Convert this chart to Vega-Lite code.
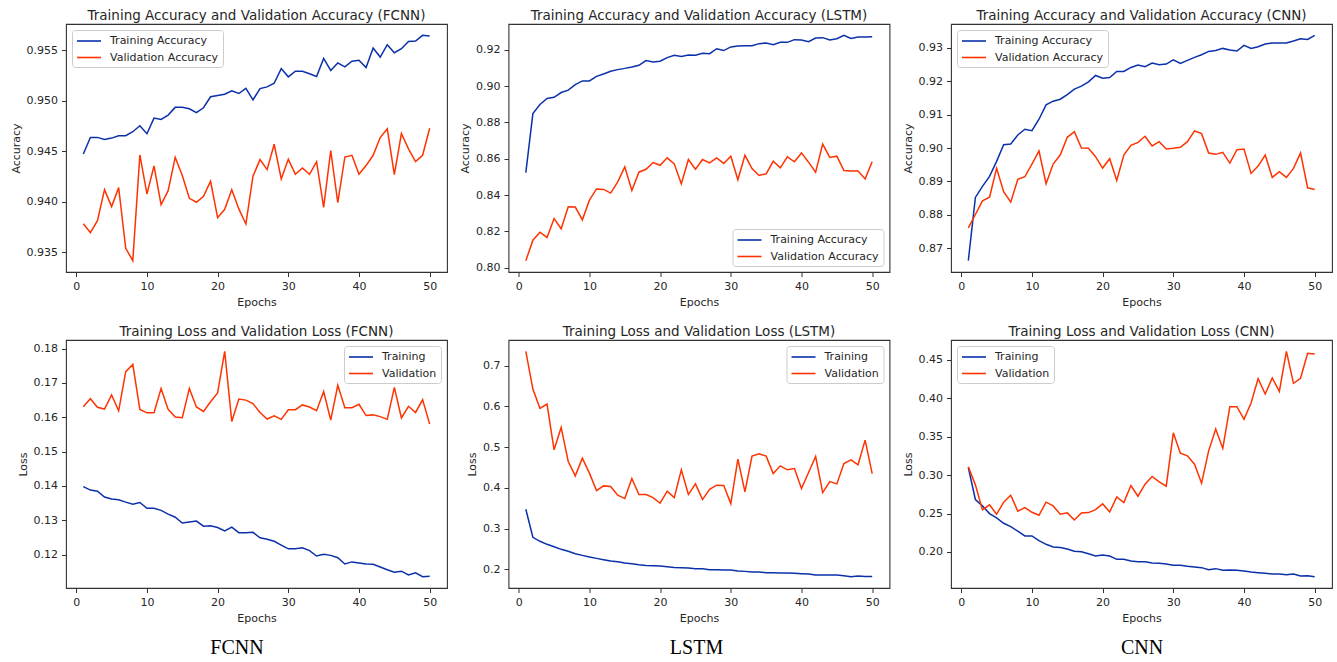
{
"$schema": "https://vega.github.io/schema/vega-lite/v6.json",
"padding": {"left": 9, "top": 7, "right": 0, "bottom": 0},
"background": "white",
"datasets": {
"fcnn_acc": [
{"epoch":1,"series":"Training Accuracy","value":0.94474},{"epoch":2,"series":"Training Accuracy","value":0.94639},{"epoch":3,"series":"Training Accuracy","value":0.94639},{"epoch":4,"series":"Training Accuracy","value":0.94619},{"epoch":5,"series":"Training Accuracy","value":0.94632},{"epoch":6,"series":"Training Accuracy","value":0.94655},{"epoch":7,"series":"Training Accuracy","value":0.94655},{"epoch":8,"series":"Training Accuracy","value":0.94695},{"epoch":9,"series":"Training Accuracy","value":0.94754},{"epoch":10,"series":"Training Accuracy","value":0.94675},
{"epoch":11,"series":"Training Accuracy","value":0.9483},{"epoch":12,"series":"Training Accuracy","value":0.94817},{"epoch":13,"series":"Training Accuracy","value":0.9486},{"epoch":14,"series":"Training Accuracy","value":0.94936},{"epoch":15,"series":"Training Accuracy","value":0.94936},{"epoch":16,"series":"Training Accuracy","value":0.94922},{"epoch":17,"series":"Training Accuracy","value":0.94883},{"epoch":18,"series":"Training Accuracy","value":0.94932},{"epoch":19,"series":"Training Accuracy","value":0.95041},{"epoch":20,"series":"Training Accuracy","value":0.95053},
{"epoch":21,"series":"Training Accuracy","value":0.95066},{"epoch":22,"series":"Training Accuracy","value":0.95099},{"epoch":23,"series":"Training Accuracy","value":0.95073},{"epoch":24,"series":"Training Accuracy","value":0.95125},{"epoch":25,"series":"Training Accuracy","value":0.9501},{"epoch":26,"series":"Training Accuracy","value":0.95122},{"epoch":27,"series":"Training Accuracy","value":0.95139},{"epoch":28,"series":"Training Accuracy","value":0.95175},{"epoch":29,"series":"Training Accuracy","value":0.9532},{"epoch":30,"series":"Training Accuracy","value":0.95238},
{"epoch":31,"series":"Training Accuracy","value":0.95294},{"epoch":32,"series":"Training Accuracy","value":0.95294},{"epoch":33,"series":"Training Accuracy","value":0.95268},{"epoch":34,"series":"Training Accuracy","value":0.95241},{"epoch":35,"series":"Training Accuracy","value":0.9542},{"epoch":36,"series":"Training Accuracy","value":0.95301},{"epoch":37,"series":"Training Accuracy","value":0.95376},{"epoch":38,"series":"Training Accuracy","value":0.95337},{"epoch":39,"series":"Training Accuracy","value":0.95393},{"epoch":40,"series":"Training Accuracy","value":0.95403},
{"epoch":41,"series":"Training Accuracy","value":0.9533},{"epoch":42,"series":"Training Accuracy","value":0.95523},{"epoch":43,"series":"Training Accuracy","value":0.95434},{"epoch":44,"series":"Training Accuracy","value":0.95556},{"epoch":45,"series":"Training Accuracy","value":0.95477},{"epoch":46,"series":"Training Accuracy","value":0.95517},{"epoch":47,"series":"Training Accuracy","value":0.95589},{"epoch":48,"series":"Training Accuracy","value":0.95592},{"epoch":49,"series":"Training Accuracy","value":0.95649},{"epoch":50,"series":"Training Accuracy","value":0.95642},
{"epoch":1,"series":"Validation Accuracy","value":0.93785},{"epoch":2,"series":"Validation Accuracy","value":0.93696},{"epoch":3,"series":"Validation Accuracy","value":0.93815},{"epoch":4,"series":"Validation Accuracy","value":0.94122},{"epoch":5,"series":"Validation Accuracy","value":0.93954},{"epoch":6,"series":"Validation Accuracy","value":0.94142},{"epoch":7,"series":"Validation Accuracy","value":0.93541},{"epoch":8,"series":"Validation Accuracy","value":0.93419},{"epoch":9,"series":"Validation Accuracy","value":0.94465},{"epoch":10,"series":"Validation Accuracy","value":0.94079},
{"epoch":11,"series":"Validation Accuracy","value":0.94356},{"epoch":12,"series":"Validation Accuracy","value":0.93974},{"epoch":13,"series":"Validation Accuracy","value":0.94112},{"epoch":14,"series":"Validation Accuracy","value":0.94442},{"epoch":15,"series":"Validation Accuracy","value":0.94261},{"epoch":16,"series":"Validation Accuracy","value":0.94036},{"epoch":17,"series":"Validation Accuracy","value":0.93997},{"epoch":18,"series":"Validation Accuracy","value":0.94056},{"epoch":19,"series":"Validation Accuracy","value":0.94205},{"epoch":20,"series":"Validation Accuracy","value":0.93845},
{"epoch":21,"series":"Validation Accuracy","value":0.93927},{"epoch":22,"series":"Validation Accuracy","value":0.94122},{"epoch":23,"series":"Validation Accuracy","value":0.93931},{"epoch":24,"series":"Validation Accuracy","value":0.93782},{"epoch":25,"series":"Validation Accuracy","value":0.94255},{"epoch":26,"series":"Validation Accuracy","value":0.94419},{"epoch":27,"series":"Validation Accuracy","value":0.9432},{"epoch":28,"series":"Validation Accuracy","value":0.94571},{"epoch":29,"series":"Validation Accuracy","value":0.94228},{"epoch":30,"series":"Validation Accuracy","value":0.94422},
{"epoch":31,"series":"Validation Accuracy","value":0.94274},{"epoch":32,"series":"Validation Accuracy","value":0.94337},{"epoch":33,"series":"Validation Accuracy","value":0.94274},{"epoch":34,"series":"Validation Accuracy","value":0.94399},{"epoch":35,"series":"Validation Accuracy","value":0.93947},{"epoch":36,"series":"Validation Accuracy","value":0.94508},{"epoch":37,"series":"Validation Accuracy","value":0.93993},{"epoch":38,"series":"Validation Accuracy","value":0.94445},{"epoch":39,"series":"Validation Accuracy","value":0.94462},{"epoch":40,"series":"Validation Accuracy","value":0.94274},
{"epoch":41,"series":"Validation Accuracy","value":0.9436},{"epoch":42,"series":"Validation Accuracy","value":0.94462},{"epoch":43,"series":"Validation Accuracy","value":0.94637},{"epoch":44,"series":"Validation Accuracy","value":0.94723},{"epoch":45,"series":"Validation Accuracy","value":0.94271},{"epoch":46,"series":"Validation Accuracy","value":0.94677},{"epoch":47,"series":"Validation Accuracy","value":0.94525},{"epoch":48,"series":"Validation Accuracy","value":0.94399},{"epoch":49,"series":"Validation Accuracy","value":0.94462},{"epoch":50,"series":"Validation Accuracy","value":0.94729}
],
"lstm_acc": [
{"epoch":1,"series":"Training Accuracy","value":0.8524},{"epoch":2,"series":"Training Accuracy","value":0.8848},{"epoch":3,"series":"Training Accuracy","value":0.8898},{"epoch":4,"series":"Training Accuracy","value":0.8931},{"epoch":5,"series":"Training Accuracy","value":0.8938},{"epoch":6,"series":"Training Accuracy","value":0.8964},{"epoch":7,"series":"Training Accuracy","value":0.8977},{"epoch":8,"series":"Training Accuracy","value":0.9008},{"epoch":9,"series":"Training Accuracy","value":0.9028},{"epoch":10,"series":"Training Accuracy","value":0.9028},
{"epoch":11,"series":"Training Accuracy","value":0.9053},{"epoch":12,"series":"Training Accuracy","value":0.9066},{"epoch":13,"series":"Training Accuracy","value":0.9081},{"epoch":14,"series":"Training Accuracy","value":0.909},{"epoch":15,"series":"Training Accuracy","value":0.9097},{"epoch":16,"series":"Training Accuracy","value":0.9105},{"epoch":17,"series":"Training Accuracy","value":0.9114},{"epoch":18,"series":"Training Accuracy","value":0.914},{"epoch":19,"series":"Training Accuracy","value":0.9132},{"epoch":20,"series":"Training Accuracy","value":0.9136},
{"epoch":21,"series":"Training Accuracy","value":0.9156},{"epoch":22,"series":"Training Accuracy","value":0.9169},{"epoch":23,"series":"Training Accuracy","value":0.9162},{"epoch":24,"series":"Training Accuracy","value":0.9171},{"epoch":25,"series":"Training Accuracy","value":0.9169},{"epoch":26,"series":"Training Accuracy","value":0.918},{"epoch":27,"series":"Training Accuracy","value":0.9178},{"epoch":28,"series":"Training Accuracy","value":0.9205},{"epoch":29,"series":"Training Accuracy","value":0.9195},{"epoch":30,"series":"Training Accuracy","value":0.9215},
{"epoch":31,"series":"Training Accuracy","value":0.922},{"epoch":32,"series":"Training Accuracy","value":0.9222},{"epoch":33,"series":"Training Accuracy","value":0.9222},{"epoch":34,"series":"Training Accuracy","value":0.9233},{"epoch":35,"series":"Training Accuracy","value":0.9237},{"epoch":36,"series":"Training Accuracy","value":0.9227},{"epoch":37,"series":"Training Accuracy","value":0.924},{"epoch":38,"series":"Training Accuracy","value":0.924},{"epoch":39,"series":"Training Accuracy","value":0.9255},{"epoch":40,"series":"Training Accuracy","value":0.9253},
{"epoch":41,"series":"Training Accuracy","value":0.9244},{"epoch":42,"series":"Training Accuracy","value":0.9264},{"epoch":43,"series":"Training Accuracy","value":0.9266},{"epoch":44,"series":"Training Accuracy","value":0.9253},{"epoch":45,"series":"Training Accuracy","value":0.926},{"epoch":46,"series":"Training Accuracy","value":0.9279},{"epoch":47,"series":"Training Accuracy","value":0.9262},{"epoch":48,"series":"Training Accuracy","value":0.927},{"epoch":49,"series":"Training Accuracy","value":0.927},{"epoch":50,"series":"Training Accuracy","value":0.9271},
{"epoch":1,"series":"Validation Accuracy","value":0.8039},{"epoch":2,"series":"Validation Accuracy","value":0.8152},{"epoch":3,"series":"Validation Accuracy","value":0.8196},{"epoch":4,"series":"Validation Accuracy","value":0.8167},{"epoch":5,"series":"Validation Accuracy","value":0.8271},{"epoch":6,"series":"Validation Accuracy","value":0.8215},{"epoch":7,"series":"Validation Accuracy","value":0.8336},{"epoch":8,"series":"Validation Accuracy","value":0.8334},{"epoch":9,"series":"Validation Accuracy","value":0.8264},{"epoch":10,"series":"Validation Accuracy","value":0.8372},
{"epoch":11,"series":"Validation Accuracy","value":0.8434},{"epoch":12,"series":"Validation Accuracy","value":0.8431},{"epoch":13,"series":"Validation Accuracy","value":0.8411},{"epoch":14,"series":"Validation Accuracy","value":0.8473},{"epoch":15,"series":"Validation Accuracy","value":0.8555},{"epoch":16,"series":"Validation Accuracy","value":0.8425},{"epoch":17,"series":"Validation Accuracy","value":0.8526},{"epoch":18,"series":"Validation Accuracy","value":0.8542},{"epoch":19,"series":"Validation Accuracy","value":0.8579},{"epoch":20,"series":"Validation Accuracy","value":0.8564},
{"epoch":21,"series":"Validation Accuracy","value":0.8605},{"epoch":22,"series":"Validation Accuracy","value":0.8572},{"epoch":23,"series":"Validation Accuracy","value":0.8462},{"epoch":24,"series":"Validation Accuracy","value":0.8596},{"epoch":25,"series":"Validation Accuracy","value":0.8542},{"epoch":26,"series":"Validation Accuracy","value":0.8596},{"epoch":27,"series":"Validation Accuracy","value":0.8577},{"epoch":28,"series":"Validation Accuracy","value":0.8605},{"epoch":29,"series":"Validation Accuracy","value":0.8574},{"epoch":30,"series":"Validation Accuracy","value":0.8614},
{"epoch":31,"series":"Validation Accuracy","value":0.8484},{"epoch":32,"series":"Validation Accuracy","value":0.8619},{"epoch":33,"series":"Validation Accuracy","value":0.8546},{"epoch":34,"series":"Validation Accuracy","value":0.8508},{"epoch":35,"series":"Validation Accuracy","value":0.8517},{"epoch":36,"series":"Validation Accuracy","value":0.8586},{"epoch":37,"series":"Validation Accuracy","value":0.855},{"epoch":38,"series":"Validation Accuracy","value":0.861},{"epoch":39,"series":"Validation Accuracy","value":0.8583},{"epoch":40,"series":"Validation Accuracy","value":0.8632},
{"epoch":41,"series":"Validation Accuracy","value":0.8581},{"epoch":42,"series":"Validation Accuracy","value":0.8526},{"epoch":43,"series":"Validation Accuracy","value":0.868},{"epoch":44,"series":"Validation Accuracy","value":0.8607},{"epoch":45,"series":"Validation Accuracy","value":0.8614},{"epoch":46,"series":"Validation Accuracy","value":0.8535},{"epoch":47,"series":"Validation Accuracy","value":0.8533},{"epoch":48,"series":"Validation Accuracy","value":0.8532},{"epoch":49,"series":"Validation Accuracy","value":0.8489},{"epoch":50,"series":"Validation Accuracy","value":0.8583}
],
"cnn_acc": [
{"epoch":1,"series":"Training Accuracy","value":0.8663},{"epoch":2,"series":"Training Accuracy","value":0.8852},{"epoch":3,"series":"Training Accuracy","value":0.8885},{"epoch":4,"series":"Training Accuracy","value":0.8915},{"epoch":5,"series":"Training Accuracy","value":0.896},{"epoch":6,"series":"Training Accuracy","value":0.901},{"epoch":7,"series":"Training Accuracy","value":0.9012},{"epoch":8,"series":"Training Accuracy","value":0.9039},{"epoch":9,"series":"Training Accuracy","value":0.9056},{"epoch":10,"series":"Training Accuracy","value":0.9052},
{"epoch":11,"series":"Training Accuracy","value":0.9086},{"epoch":12,"series":"Training Accuracy","value":0.9129},{"epoch":13,"series":"Training Accuracy","value":0.914},{"epoch":14,"series":"Training Accuracy","value":0.9146},{"epoch":15,"series":"Training Accuracy","value":0.916},{"epoch":16,"series":"Training Accuracy","value":0.9176},{"epoch":17,"series":"Training Accuracy","value":0.9185},{"epoch":18,"series":"Training Accuracy","value":0.9198},{"epoch":19,"series":"Training Accuracy","value":0.9217},{"epoch":20,"series":"Training Accuracy","value":0.9209},
{"epoch":21,"series":"Training Accuracy","value":0.9211},{"epoch":22,"series":"Training Accuracy","value":0.9229},{"epoch":23,"series":"Training Accuracy","value":0.9229},{"epoch":24,"series":"Training Accuracy","value":0.9241},{"epoch":25,"series":"Training Accuracy","value":0.9248},{"epoch":26,"series":"Training Accuracy","value":0.9243},{"epoch":27,"series":"Training Accuracy","value":0.9254},{"epoch":28,"series":"Training Accuracy","value":0.9249},{"epoch":29,"series":"Training Accuracy","value":0.9251},{"epoch":30,"series":"Training Accuracy","value":0.9264},
{"epoch":31,"series":"Training Accuracy","value":0.9253},{"epoch":32,"series":"Training Accuracy","value":0.9262},{"epoch":33,"series":"Training Accuracy","value":0.9271},{"epoch":34,"series":"Training Accuracy","value":0.9279},{"epoch":35,"series":"Training Accuracy","value":0.9289},{"epoch":36,"series":"Training Accuracy","value":0.9292},{"epoch":37,"series":"Training Accuracy","value":0.9298},{"epoch":38,"series":"Training Accuracy","value":0.9293},{"epoch":39,"series":"Training Accuracy","value":0.929},{"epoch":40,"series":"Training Accuracy","value":0.9307},
{"epoch":41,"series":"Training Accuracy","value":0.9298},{"epoch":42,"series":"Training Accuracy","value":0.9303},{"epoch":43,"series":"Training Accuracy","value":0.9311},{"epoch":44,"series":"Training Accuracy","value":0.9314},{"epoch":45,"series":"Training Accuracy","value":0.9314},{"epoch":46,"series":"Training Accuracy","value":0.9314},{"epoch":47,"series":"Training Accuracy","value":0.932},{"epoch":48,"series":"Training Accuracy","value":0.9327},{"epoch":49,"series":"Training Accuracy","value":0.9325},{"epoch":50,"series":"Training Accuracy","value":0.9337},
{"epoch":1,"series":"Validation Accuracy","value":0.8761},{"epoch":2,"series":"Validation Accuracy","value":0.8801},{"epoch":3,"series":"Validation Accuracy","value":0.8842},{"epoch":4,"series":"Validation Accuracy","value":0.8853},{"epoch":5,"series":"Validation Accuracy","value":0.8939},{"epoch":6,"series":"Validation Accuracy","value":0.8869},{"epoch":7,"series":"Validation Accuracy","value":0.8838},{"epoch":8,"series":"Validation Accuracy","value":0.8906},{"epoch":9,"series":"Validation Accuracy","value":0.8914},{"epoch":10,"series":"Validation Accuracy","value":0.8952},
{"epoch":11,"series":"Validation Accuracy","value":0.8991},{"epoch":12,"series":"Validation Accuracy","value":0.8893},{"epoch":13,"series":"Validation Accuracy","value":0.8952},{"epoch":14,"series":"Validation Accuracy","value":0.8979},{"epoch":15,"series":"Validation Accuracy","value":0.9032},{"epoch":16,"series":"Validation Accuracy","value":0.9049},{"epoch":17,"series":"Validation Accuracy","value":0.9},{"epoch":18,"series":"Validation Accuracy","value":0.8999},{"epoch":19,"series":"Validation Accuracy","value":0.8974},{"epoch":20,"series":"Validation Accuracy","value":0.894},
{"epoch":21,"series":"Validation Accuracy","value":0.8968},{"epoch":22,"series":"Validation Accuracy","value":0.8903},{"epoch":23,"series":"Validation Accuracy","value":0.8979},{"epoch":24,"series":"Validation Accuracy","value":0.9008},{"epoch":25,"series":"Validation Accuracy","value":0.9017},{"epoch":26,"series":"Validation Accuracy","value":0.9035},{"epoch":27,"series":"Validation Accuracy","value":0.9006},{"epoch":28,"series":"Validation Accuracy","value":0.9019},{"epoch":29,"series":"Validation Accuracy","value":0.8997},{"epoch":30,"series":"Validation Accuracy","value":0.8999},
{"epoch":31,"series":"Validation Accuracy","value":0.9002},{"epoch":32,"series":"Validation Accuracy","value":0.9019},{"epoch":33,"series":"Validation Accuracy","value":0.9051},{"epoch":34,"series":"Validation Accuracy","value":0.9043},{"epoch":35,"series":"Validation Accuracy","value":0.8985},{"epoch":36,"series":"Validation Accuracy","value":0.8981},{"epoch":37,"series":"Validation Accuracy","value":0.8987},{"epoch":38,"series":"Validation Accuracy","value":0.8955},{"epoch":39,"series":"Validation Accuracy","value":0.8995},{"epoch":40,"series":"Validation Accuracy","value":0.8997},
{"epoch":41,"series":"Validation Accuracy","value":0.8924},{"epoch":42,"series":"Validation Accuracy","value":0.8946},{"epoch":43,"series":"Validation Accuracy","value":0.8979},{"epoch":44,"series":"Validation Accuracy","value":0.8912},{"epoch":45,"series":"Validation Accuracy","value":0.8929},{"epoch":46,"series":"Validation Accuracy","value":0.8912},{"epoch":47,"series":"Validation Accuracy","value":0.8939},{"epoch":48,"series":"Validation Accuracy","value":0.8985},{"epoch":49,"series":"Validation Accuracy","value":0.8881},{"epoch":50,"series":"Validation Accuracy","value":0.8876}
],
"fcnn_loss": [
{"epoch":1,"series":"Training","value":0.1398},{"epoch":2,"series":"Training","value":0.1388},{"epoch":3,"series":"Training","value":0.1385},{"epoch":4,"series":"Training","value":0.1368},{"epoch":5,"series":"Training","value":0.1362},{"epoch":6,"series":"Training","value":0.136},{"epoch":7,"series":"Training","value":0.1353},{"epoch":8,"series":"Training","value":0.1347},{"epoch":9,"series":"Training","value":0.1352},{"epoch":10,"series":"Training","value":0.1335},
{"epoch":11,"series":"Training","value":0.1335},{"epoch":12,"series":"Training","value":0.1329},{"epoch":13,"series":"Training","value":0.1318},{"epoch":14,"series":"Training","value":0.1309},{"epoch":15,"series":"Training","value":0.1292},{"epoch":16,"series":"Training","value":0.1295},{"epoch":17,"series":"Training","value":0.1298},{"epoch":18,"series":"Training","value":0.1283},{"epoch":19,"series":"Training","value":0.1284},{"epoch":20,"series":"Training","value":0.1279},
{"epoch":21,"series":"Training","value":0.1269},{"epoch":22,"series":"Training","value":0.128},{"epoch":23,"series":"Training","value":0.1264},{"epoch":24,"series":"Training","value":0.1264},{"epoch":25,"series":"Training","value":0.1265},{"epoch":26,"series":"Training","value":0.1249},{"epoch":27,"series":"Training","value":0.1245},{"epoch":28,"series":"Training","value":0.1239},{"epoch":29,"series":"Training","value":0.1228},{"epoch":30,"series":"Training","value":0.1217},
{"epoch":31,"series":"Training","value":0.1217},{"epoch":32,"series":"Training","value":0.122},{"epoch":33,"series":"Training","value":0.1212},{"epoch":34,"series":"Training","value":0.1196},{"epoch":35,"series":"Training","value":0.1201},{"epoch":36,"series":"Training","value":0.1198},{"epoch":37,"series":"Training","value":0.1191},{"epoch":38,"series":"Training","value":0.1173},{"epoch":39,"series":"Training","value":0.1179},{"epoch":40,"series":"Training","value":0.1176},
{"epoch":41,"series":"Training","value":0.1173},{"epoch":42,"series":"Training","value":0.1172},{"epoch":43,"series":"Training","value":0.1164},{"epoch":44,"series":"Training","value":0.1156},{"epoch":45,"series":"Training","value":0.1149},{"epoch":46,"series":"Training","value":0.1152},{"epoch":47,"series":"Training","value":0.1141},{"epoch":48,"series":"Training","value":0.1147},{"epoch":49,"series":"Training","value":0.1136},{"epoch":50,"series":"Training","value":0.1137},
{"epoch":1,"series":"Validation","value":0.1631},{"epoch":2,"series":"Validation","value":0.1654},{"epoch":3,"series":"Validation","value":0.1629},{"epoch":4,"series":"Validation","value":0.1624},{"epoch":5,"series":"Validation","value":0.1665},{"epoch":6,"series":"Validation","value":0.1619},{"epoch":7,"series":"Validation","value":0.1733},{"epoch":8,"series":"Validation","value":0.1754},{"epoch":9,"series":"Validation","value":0.1623},{"epoch":10,"series":"Validation","value":0.1613},
{"epoch":11,"series":"Validation","value":0.1613},{"epoch":12,"series":"Validation","value":0.1684},{"epoch":13,"series":"Validation","value":0.1623},{"epoch":14,"series":"Validation","value":0.1601},{"epoch":15,"series":"Validation","value":0.1599},{"epoch":16,"series":"Validation","value":0.1684},{"epoch":17,"series":"Validation","value":0.163},{"epoch":18,"series":"Validation","value":0.1617},{"epoch":19,"series":"Validation","value":0.1645},{"epoch":20,"series":"Validation","value":0.1671},
{"epoch":21,"series":"Validation","value":0.1792},{"epoch":22,"series":"Validation","value":0.1588},{"epoch":23,"series":"Validation","value":0.1653},{"epoch":24,"series":"Validation","value":0.165},{"epoch":25,"series":"Validation","value":0.164},{"epoch":26,"series":"Validation","value":0.1614},{"epoch":27,"series":"Validation","value":0.1595},{"epoch":28,"series":"Validation","value":0.1604},{"epoch":29,"series":"Validation","value":0.1594},{"epoch":30,"series":"Validation","value":0.1622},
{"epoch":31,"series":"Validation","value":0.1622},{"epoch":32,"series":"Validation","value":0.1636},{"epoch":33,"series":"Validation","value":0.163},{"epoch":34,"series":"Validation","value":0.1619},{"epoch":35,"series":"Validation","value":0.1675},{"epoch":36,"series":"Validation","value":0.1592},{"epoch":37,"series":"Validation","value":0.1693},{"epoch":38,"series":"Validation","value":0.1628},{"epoch":39,"series":"Validation","value":0.1628},{"epoch":40,"series":"Validation","value":0.1638},
{"epoch":41,"series":"Validation","value":0.1605},{"epoch":42,"series":"Validation","value":0.1607},{"epoch":43,"series":"Validation","value":0.1602},{"epoch":44,"series":"Validation","value":0.1594},{"epoch":45,"series":"Validation","value":0.1687},{"epoch":46,"series":"Validation","value":0.1598},{"epoch":47,"series":"Validation","value":0.1632},{"epoch":48,"series":"Validation","value":0.1614},{"epoch":49,"series":"Validation","value":0.1651},{"epoch":50,"series":"Validation","value":0.158}
],
"lstm_loss": [
{"epoch":1,"series":"Training","value":0.3475},{"epoch":2,"series":"Training","value":0.2787},{"epoch":3,"series":"Training","value":0.2689},{"epoch":4,"series":"Training","value":0.2615},{"epoch":5,"series":"Training","value":0.2557},{"epoch":6,"series":"Training","value":0.2492},{"epoch":7,"series":"Training","value":0.2443},{"epoch":8,"series":"Training","value":0.2385},{"epoch":9,"series":"Training","value":0.2344},{"epoch":10,"series":"Training","value":0.2303},
{"epoch":11,"series":"Training","value":0.227},{"epoch":12,"series":"Training","value":0.2238},{"epoch":13,"series":"Training","value":0.2205},{"epoch":14,"series":"Training","value":0.2189},{"epoch":15,"series":"Training","value":0.2156},{"epoch":16,"series":"Training","value":0.2139},{"epoch":17,"series":"Training","value":0.2115},{"epoch":18,"series":"Training","value":0.2098},{"epoch":19,"series":"Training","value":0.209},{"epoch":20,"series":"Training","value":0.2082},
{"epoch":21,"series":"Training","value":0.2066},{"epoch":22,"series":"Training","value":0.2049},{"epoch":23,"series":"Training","value":0.2041},{"epoch":24,"series":"Training","value":0.2033},{"epoch":25,"series":"Training","value":0.2016},{"epoch":26,"series":"Training","value":0.2016},{"epoch":27,"series":"Training","value":0.1992},{"epoch":28,"series":"Training","value":0.1992},{"epoch":29,"series":"Training","value":0.1984},{"epoch":30,"series":"Training","value":0.1984},
{"epoch":31,"series":"Training","value":0.1959},{"epoch":32,"series":"Training","value":0.1951},{"epoch":33,"series":"Training","value":0.1934},{"epoch":34,"series":"Training","value":0.1934},{"epoch":35,"series":"Training","value":0.1918},{"epoch":36,"series":"Training","value":0.1918},{"epoch":37,"series":"Training","value":0.191},{"epoch":38,"series":"Training","value":0.191},{"epoch":39,"series":"Training","value":0.1902},{"epoch":40,"series":"Training","value":0.1893},
{"epoch":41,"series":"Training","value":0.1885},{"epoch":42,"series":"Training","value":0.1861},{"epoch":43,"series":"Training","value":0.1861},{"epoch":44,"series":"Training","value":0.1861},{"epoch":45,"series":"Training","value":0.1861},{"epoch":46,"series":"Training","value":0.1844},{"epoch":47,"series":"Training","value":0.182},{"epoch":48,"series":"Training","value":0.1836},{"epoch":49,"series":"Training","value":0.1828},{"epoch":50,"series":"Training","value":0.1828},
{"epoch":1,"series":"Validation","value":0.7352},{"epoch":2,"series":"Validation","value":0.6426},{"epoch":3,"series":"Validation","value":0.5951},{"epoch":4,"series":"Validation","value":0.6057},{"epoch":5,"series":"Validation","value":0.4934},{"epoch":6,"series":"Validation","value":0.5484},{"epoch":7,"series":"Validation","value":0.4648},{"epoch":8,"series":"Validation","value":0.4295},{"epoch":9,"series":"Validation","value":0.473},{"epoch":10,"series":"Validation","value":0.4361},
{"epoch":11,"series":"Validation","value":0.3934},{"epoch":12,"series":"Validation","value":0.4049},{"epoch":13,"series":"Validation","value":0.4033},{"epoch":14,"series":"Validation","value":0.382},{"epoch":15,"series":"Validation","value":0.3738},{"epoch":16,"series":"Validation","value":0.423},{"epoch":17,"series":"Validation","value":0.3836},{"epoch":18,"series":"Validation","value":0.3836},{"epoch":19,"series":"Validation","value":0.3762},{"epoch":20,"series":"Validation","value":0.3623},
{"epoch":21,"series":"Validation","value":0.3918},{"epoch":22,"series":"Validation","value":0.3762},{"epoch":23,"series":"Validation","value":0.4443},{"epoch":24,"series":"Validation","value":0.3836},{"epoch":25,"series":"Validation","value":0.4098},{"epoch":26,"series":"Validation","value":0.3713},{"epoch":27,"series":"Validation","value":0.3967},{"epoch":28,"series":"Validation","value":0.4066},{"epoch":29,"series":"Validation","value":0.4057},{"epoch":30,"series":"Validation","value":0.3615},
{"epoch":31,"series":"Validation","value":0.4705},{"epoch":32,"series":"Validation","value":0.3902},{"epoch":33,"series":"Validation","value":0.4779},{"epoch":34,"series":"Validation","value":0.4836},{"epoch":35,"series":"Validation","value":0.4779},{"epoch":36,"series":"Validation","value":0.4352},{"epoch":37,"series":"Validation","value":0.4541},{"epoch":38,"series":"Validation","value":0.4443},{"epoch":39,"series":"Validation","value":0.4475},{"epoch":40,"series":"Validation","value":0.3984},
{"epoch":41,"series":"Validation","value":0.4377},{"epoch":42,"series":"Validation","value":0.477},{"epoch":43,"series":"Validation","value":0.3885},{"epoch":44,"series":"Validation","value":0.4156},{"epoch":45,"series":"Validation","value":0.4098},{"epoch":46,"series":"Validation","value":0.4598},{"epoch":47,"series":"Validation","value":0.4689},{"epoch":48,"series":"Validation","value":0.4566},{"epoch":49,"series":"Validation","value":0.5172},{"epoch":50,"series":"Validation","value":0.4352}
],
"cnn_loss": [
{"epoch":1,"series":"Training","value":0.31},{"epoch":2,"series":"Training","value":0.2683},{"epoch":3,"series":"Training","value":0.26},{"epoch":4,"series":"Training","value":0.25},{"epoch":5,"series":"Training","value":0.2443},{"epoch":6,"series":"Training","value":0.2374},{"epoch":7,"series":"Training","value":0.233},{"epoch":8,"series":"Training","value":0.227},{"epoch":9,"series":"Training","value":0.2209},{"epoch":10,"series":"Training","value":0.2209},
{"epoch":11,"series":"Training","value":0.2148},{"epoch":12,"series":"Training","value":0.21},{"epoch":13,"series":"Training","value":0.2065},{"epoch":14,"series":"Training","value":0.2057},{"epoch":15,"series":"Training","value":0.2039},{"epoch":16,"series":"Training","value":0.2009},{"epoch":17,"series":"Training","value":0.2004},{"epoch":18,"series":"Training","value":0.1978},{"epoch":19,"series":"Training","value":0.1948},{"epoch":20,"series":"Training","value":0.1961},
{"epoch":21,"series":"Training","value":0.1948},{"epoch":22,"series":"Training","value":0.1904},{"epoch":23,"series":"Training","value":0.1904},{"epoch":24,"series":"Training","value":0.1883},{"epoch":25,"series":"Training","value":0.1874},{"epoch":26,"series":"Training","value":0.1874},{"epoch":27,"series":"Training","value":0.1857},{"epoch":28,"series":"Training","value":0.1852},{"epoch":29,"series":"Training","value":0.1843},{"epoch":30,"series":"Training","value":0.1826},
{"epoch":31,"series":"Training","value":0.1826},{"epoch":32,"series":"Training","value":0.1813},{"epoch":33,"series":"Training","value":0.1804},{"epoch":34,"series":"Training","value":0.1796},{"epoch":35,"series":"Training","value":0.177},{"epoch":36,"series":"Training","value":0.1783},{"epoch":37,"series":"Training","value":0.1761},{"epoch":38,"series":"Training","value":0.1765},{"epoch":39,"series":"Training","value":0.1761},{"epoch":40,"series":"Training","value":0.1752},
{"epoch":41,"series":"Training","value":0.1739},{"epoch":42,"series":"Training","value":0.173},{"epoch":43,"series":"Training","value":0.1722},{"epoch":44,"series":"Training","value":0.1713},{"epoch":45,"series":"Training","value":0.1713},{"epoch":46,"series":"Training","value":0.1704},{"epoch":47,"series":"Training","value":0.1713},{"epoch":48,"series":"Training","value":0.1687},{"epoch":49,"series":"Training","value":0.1691},{"epoch":50,"series":"Training","value":0.1678},
{"epoch":1,"series":"Validation","value":0.3109},{"epoch":2,"series":"Validation","value":0.2874},{"epoch":3,"series":"Validation","value":0.2548},{"epoch":4,"series":"Validation","value":0.2613},{"epoch":5,"series":"Validation","value":0.2491},{"epoch":6,"series":"Validation","value":0.2648},{"epoch":7,"series":"Validation","value":0.2739},{"epoch":8,"series":"Validation","value":0.253},{"epoch":9,"series":"Validation","value":0.2578},{"epoch":10,"series":"Validation","value":0.2517},
{"epoch":11,"series":"Validation","value":0.2478},{"epoch":12,"series":"Validation","value":0.2648},{"epoch":13,"series":"Validation","value":0.26},{"epoch":14,"series":"Validation","value":0.2491},{"epoch":15,"series":"Validation","value":0.2509},{"epoch":16,"series":"Validation","value":0.2417},{"epoch":17,"series":"Validation","value":0.2509},{"epoch":18,"series":"Validation","value":0.2513},{"epoch":19,"series":"Validation","value":0.2552},{"epoch":20,"series":"Validation","value":0.2626},
{"epoch":21,"series":"Validation","value":0.2522},{"epoch":22,"series":"Validation","value":0.2717},{"epoch":23,"series":"Validation","value":0.2643},{"epoch":24,"series":"Validation","value":0.2865},{"epoch":25,"series":"Validation","value":0.2726},{"epoch":26,"series":"Validation","value":0.2883},{"epoch":27,"series":"Validation","value":0.2983},{"epoch":28,"series":"Validation","value":0.2913},{"epoch":29,"series":"Validation","value":0.2857},{"epoch":30,"series":"Validation","value":0.3552},
{"epoch":31,"series":"Validation","value":0.3287},{"epoch":32,"series":"Validation","value":0.3252},{"epoch":33,"series":"Validation","value":0.3143},{"epoch":34,"series":"Validation","value":0.2896},{"epoch":35,"series":"Validation","value":0.3317},{"epoch":36,"series":"Validation","value":0.36},{"epoch":37,"series":"Validation","value":0.3348},{"epoch":38,"series":"Validation","value":0.3891},{"epoch":39,"series":"Validation","value":0.3891},{"epoch":40,"series":"Validation","value":0.3726},
{"epoch":41,"series":"Validation","value":0.3939},{"epoch":42,"series":"Validation","value":0.4257},{"epoch":43,"series":"Validation","value":0.4057},{"epoch":44,"series":"Validation","value":0.4265},{"epoch":45,"series":"Validation","value":0.4091},{"epoch":46,"series":"Validation","value":0.4613},{"epoch":47,"series":"Validation","value":0.4196},{"epoch":48,"series":"Validation","value":0.4261},{"epoch":49,"series":"Validation","value":0.4587},{"epoch":50,"series":"Validation","value":0.4578}
]
},
"hconcat": [
{
"vconcat": [
{"width": 381, "height": 248, "title": {"text": "Training Accuracy and Validation Accuracy (FCNN)"}, "data": {"name": "fcnn_acc"}, "mark": {"type": "line", "strokeWidth": 1.5},
 "encoding": {
  "x": {"field": "epoch", "type": "quantitative", "scale": {"domain": [-1.45, 52.45], "nice": false, "zero": false}, "axis": {"values": [0,10,20,30,40,50], "title": "Epochs"}},
  "y": {"field": "value", "type": "quantitative", "scale": {"domain": [0.93307, 0.95761], "nice": false, "zero": false}, "axis": {"values": [0.935,0.94,0.945,0.95,0.955], "format": ".3f", "title": "Accuracy"}},
  "color": {"field": "series", "type": "nominal", "scale": {"domain": ["Training Accuracy","Validation Accuracy"], "range": ["#0b30aa","#ff3300"]}, "legend": {"title": null, "orient": "top-left"}}}},
{"width": 381, "height": 248, "title": {"text": "Training Loss and Validation Loss (FCNN)"}, "data": {"name": "fcnn_loss"}, "mark": {"type": "line", "strokeWidth": 1.5},
 "encoding": {
  "x": {"field": "epoch", "type": "quantitative", "scale": {"domain": [-1.45, 52.45], "nice": false, "zero": false}, "axis": {"values": [0,10,20,30,40,50], "title": "Epochs"}},
  "y": {"field": "value", "type": "quantitative", "scale": {"domain": [0.1103, 0.1825], "nice": false, "zero": false}, "axis": {"values": [0.12,0.13,0.14,0.15,0.16,0.17,0.18], "format": ".2f", "title": "Loss"}},
  "color": {"field": "series", "type": "nominal", "scale": {"domain": ["Training","Validation"], "range": ["#0b30aa","#ff3300"]}, "legend": {"title": null, "orient": "top-right"}}}}
],
"spacing": 68, "bounds": "flush",
"resolve": {"scale": {"color": "independent", "x": "independent", "y": "independent"}, "legend": {"color": "independent"}},
"title": {"text": "FCNN", "orient": "bottom", "font": "Liberation Serif", "fontSize": 20, "fontWeight": "normal", "color": "#000000", "frame": "group", "anchor": "middle", "offset": 14, "dx": 171}
},
{
"vconcat": [
{"width": 381, "height": 248, "title": {"text": "Training Accuracy and Validation Accuracy (LSTM)"}, "data": {"name": "lstm_acc"}, "mark": {"type": "line", "strokeWidth": 1.5},
 "encoding": {
  "x": {"field": "epoch", "type": "quantitative", "scale": {"domain": [-1.45, 52.45], "nice": false, "zero": false}, "axis": {"values": [0,10,20,30,40,50], "title": "Epochs"}},
  "y": {"field": "value", "type": "quantitative", "scale": {"domain": [0.7977, 0.9341], "nice": false, "zero": false}, "axis": {"values": [0.8,0.82,0.84,0.86,0.88,0.9,0.92], "format": ".2f", "title": "Accuracy"}},
  "color": {"field": "series", "type": "nominal", "scale": {"domain": ["Training Accuracy","Validation Accuracy"], "range": ["#0b30aa","#ff3300"]}, "legend": {"title": null, "orient": "bottom-right"}}}},
{"width": 381, "height": 248, "title": {"text": "Training Loss and Validation Loss (LSTM)"}, "data": {"name": "lstm_loss"}, "mark": {"type": "line", "strokeWidth": 1.5},
 "encoding": {
  "x": {"field": "epoch", "type": "quantitative", "scale": {"domain": [-1.45, 52.45], "nice": false, "zero": false}, "axis": {"values": [0,10,20,30,40,50], "title": "Epochs"}},
  "y": {"field": "value", "type": "quantitative", "scale": {"domain": [0.1543, 0.7629], "nice": false, "zero": false}, "axis": {"values": [0.2,0.3,0.4,0.5,0.6,0.7], "format": ".1f", "title": "Loss"}},
  "color": {"field": "series", "type": "nominal", "scale": {"domain": ["Training","Validation"], "range": ["#0b30aa","#ff3300"]}, "legend": {"title": null, "orient": "top-right"}}}}
],
"spacing": 68, "bounds": "flush",
"resolve": {"scale": {"color": "independent", "x": "independent", "y": "independent"}, "legend": {"color": "independent"}},
"title": {"text": "LSTM", "orient": "bottom", "font": "Liberation Serif", "fontSize": 20, "fontWeight": "normal", "color": "#000000", "frame": "group", "anchor": "middle", "offset": 14, "dx": 188}
},
{
"vconcat": [
{"width": 381, "height": 248, "title": {"text": "Training Accuracy and Validation Accuracy (CNN)"}, "data": {"name": "cnn_acc"}, "mark": {"type": "line", "strokeWidth": 1.5},
 "encoding": {
  "x": {"field": "epoch", "type": "quantitative", "scale": {"domain": [-1.45, 52.45], "nice": false, "zero": false}, "axis": {"values": [0,10,20,30,40,50], "title": "Epochs"}},
  "y": {"field": "value", "type": "quantitative", "scale": {"domain": [0.8629, 0.9371], "nice": false, "zero": false}, "axis": {"values": [0.87,0.88,0.89,0.9,0.91,0.92,0.93], "format": ".2f", "title": "Accuracy"}},
  "color": {"field": "series", "type": "nominal", "scale": {"domain": ["Training Accuracy","Validation Accuracy"], "range": ["#0b30aa","#ff3300"]}, "legend": {"title": null, "orient": "top-left"}}}},
{"width": 381, "height": 248, "title": {"text": "Training Loss and Validation Loss (CNN)"}, "data": {"name": "cnn_loss"}, "mark": {"type": "line", "strokeWidth": 1.5},
 "encoding": {
  "x": {"field": "epoch", "type": "quantitative", "scale": {"domain": [-1.45, 52.45], "nice": false, "zero": false}, "axis": {"values": [0,10,20,30,40,50], "title": "Epochs"}},
  "y": {"field": "value", "type": "quantitative", "scale": {"domain": [0.1531, 0.476], "nice": false, "zero": false}, "axis": {"values": [0.2,0.25,0.3,0.35,0.4,0.45], "format": ".2f", "title": "Loss"}},
  "color": {"field": "series", "type": "nominal", "scale": {"domain": ["Training","Validation"], "range": ["#0b30aa","#ff3300"]}, "legend": {"title": null, "orient": "top-left"}}}}
],
"spacing": 68, "bounds": "flush",
"resolve": {"scale": {"color": "independent", "x": "independent", "y": "independent"}, "legend": {"color": "independent"}},
"title": {"text": "CNN", "orient": "bottom", "font": "Liberation Serif", "fontSize": 20, "fontWeight": "normal", "color": "#000000", "frame": "group", "anchor": "middle", "offset": 14, "dx": 191}
}
],
"spacing": 10.5,
"resolve": {"scale": {"color": "independent", "x": "independent", "y": "independent"}, "legend": {"color": "independent"}},
"config": {
 "font": "DejaVu Sans",
 "view": {"stroke": "#333333", "strokeWidth": 1.1},
 "axis": {"domain": false, "grid": false, "tickColor": "#333333", "tickSize": 4.5, "tickWidth": 1, "labelFont": "DejaVu Sans", "labelFontSize": 11, "labelColor": "#262626", "labelPadding": 4, "labelFlush": false, "labelOverlap": false, "titleFont": "DejaVu Sans", "titleFontSize": 11, "titleFontWeight": "normal", "titleColor": "#262626"},
 "axisY": {"titlePadding": 5},
 "axisX": {"titlePadding": 5},
 "title": {"font": "DejaVu Sans", "fontSize": 13.5, "fontWeight": "normal", "color": "#262626", "offset": 2, "frame": "group"},
 "legend": {"offset": 6, "symbolType": "M-1,0H3", "symbolSize": 144, "symbolStrokeWidth": 1.6, "labelFont": "DejaVu Sans", "labelFontSize": 11, "labelColor": "#262626", "labelOffset": 20, "strokeColor": "#cccccc", "fillColor": "rgba(255,255,255,0.85)", "padding": 4, "cornerRadius": 3, "rowPadding": 4.5, "labelLimit": 300}
}
}
